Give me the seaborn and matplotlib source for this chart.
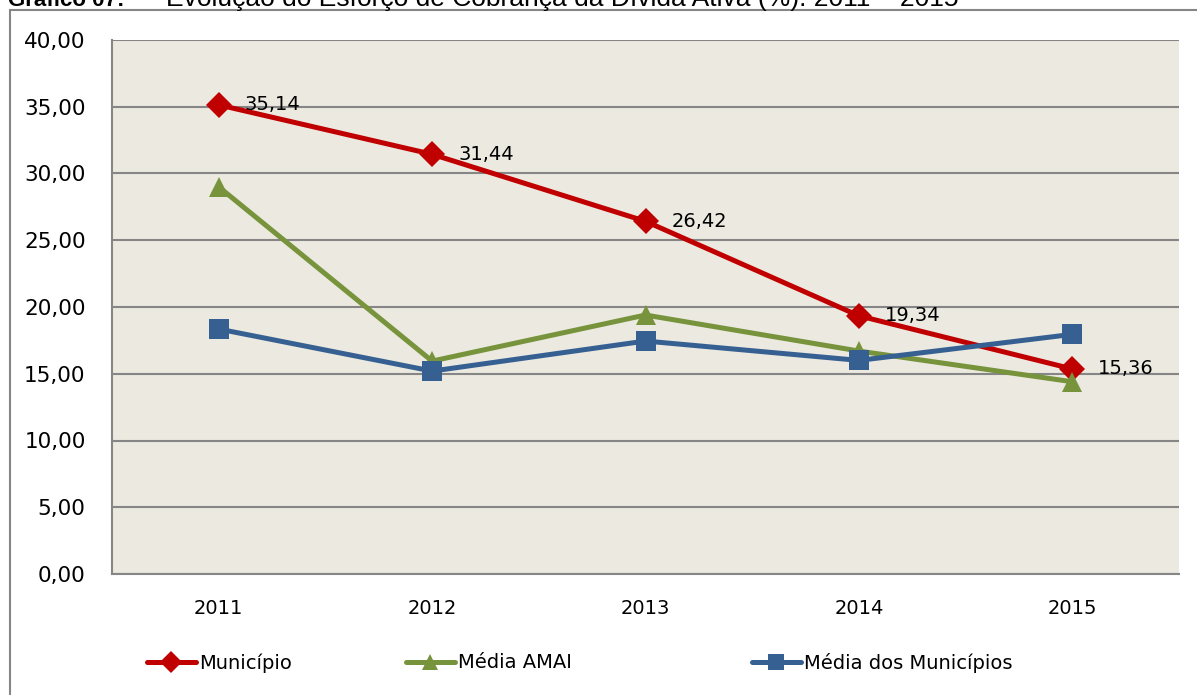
import numpy as np
import matplotlib.pyplot as plt
import matplotlib.patches as mpatches
from matplotlib.lines import Line2D
from matplotlib.ticker import FuncFormatter, FixedLocator
import seaborn as sns
import pandas as pd

anos = [2011, 2012, 2013, 2014, 2015]
municipio = [35.14, 31.44, 26.42, 19.34, 15.36]
media_amai = [29.0, 15.95, 19.4, 16.7, 14.4]
media_municipios = [18.35, 15.2, 17.45, 16.0, 17.95]

series = ["Município", "Média AMAI", "Média dos Municípios"]
cores = ["#C00000", "#77933C", "#376092"]
marcadores = ["D", "^", "s"]
tamanhos = [13, 15, 14]

sns.set_style("white")
plt.rcParams["font.family"] = ["DejaVu Sans"]
plt.rcParams["text.color"] = "black"
plt.rcParams["xtick.labelcolor"] = "black"
plt.rcParams["ytick.labelcolor"] = "black"

df = pd.DataFrame({"ano": anos * 3,
                   "valor": municipio + media_amai + media_municipios,
                   "serie": [s for s in series for _ in anos]})

fig = plt.figure(figsize=(11.97, 6.95), dpi=100)
W, H = 1197, 695
ax = fig.add_axes([112 / W, 1 - 574 / H, (1179 - 112) / W, (574 - 40) / H])
ax.set_facecolor("#ECE9E0")

for nome, cor, mk, ms in zip(series, cores, marcadores, tamanhos):
    sns.lineplot(data=df[df["serie"] == nome], x="ano", y="valor", ax=ax,
                 color=cor, marker=mk, markersize=ms, markeredgewidth=0,
                 linewidth=3.6, label=nome, legend=False)

for x, v in zip(anos, municipio):
    ax.annotate(f"{v:.2f}".replace(".", ","), (x, v), xytext=(26, 0),
                textcoords="offset pixels", va="center", ha="left", fontsize=14,
                color="black")

ax.set_xlim(2010.5, 2015.5)
ax.set_ylim(0, 40)
ax.set_yticks(np.arange(0, 41, 5))
ax.yaxis.set_major_formatter(FuncFormatter(lambda v, p: f"{v:.2f}".replace(".", ",")))
ax.yaxis.grid(True, color="#868686", linewidth=1.5)
ax.set_axisbelow(True)
ax.set_xticks(anos)
ax.set_xticklabels([str(a) for a in anos])
ax.xaxis.set_minor_locator(FixedLocator(np.arange(2010.5, 2016, 1)))
ax.tick_params(axis="x", which="major", length=0, pad=18, labelsize=14)
ax.tick_params(axis="x", which="minor", length=6, width=1.2, color="#868686", direction="out")
ax.tick_params(axis="y", length=6, width=1.2, color="#868686", direction="out", pad=13, labelsize=15.5)
ax.set_xlabel("")
ax.set_ylabel("")
for lado in ["top", "right"]:
    ax.spines[lado].set_visible(False)
for lado in ["left", "bottom"]:
    ax.spines[lado].set_color("#868686")
    ax.spines[lado].set_linewidth(1.5)

# moldura
fig.patches.append(mpatches.Rectangle((10 / W, -0.1), 1.2, 1 - 10 / H + 0.1,
                                      transform=fig.transFigure, fill=False,
                                      edgecolor="#868686", linewidth=1.5))

# titulo (cortado no topo, como no original)
fig.text(8 / W, 1 - 6 / H, "Gráfico 07:", fontsize=16, fontweight="bold",
         family="Liberation Sans", va="baseline")
fig.text(166 / W, 1 - 6 / H, "Evolução do Esforço de Cobrança da Dívida Ativa (%): 2011 – 2015",
         fontsize=19, family="Liberation Sans", va="baseline")

# legenda
for nome, cor, mk, x0 in zip(series, cores, marcadores, [147, 406, 752]):
    h = Line2D([], [], color=cor, marker=mk, markersize=11, markeredgewidth=0, linewidth=3.6)
    fig.legend(handles=[h], labels=[nome], loc="center left",
               bbox_to_anchor=(x0 / W, 1 - 663 / H), frameon=False,
               handlelength=2.5, handletextpad=0.2, borderpad=0,
               borderaxespad=0, fontsize=14)

fig.savefig("out.png", dpi=100)
